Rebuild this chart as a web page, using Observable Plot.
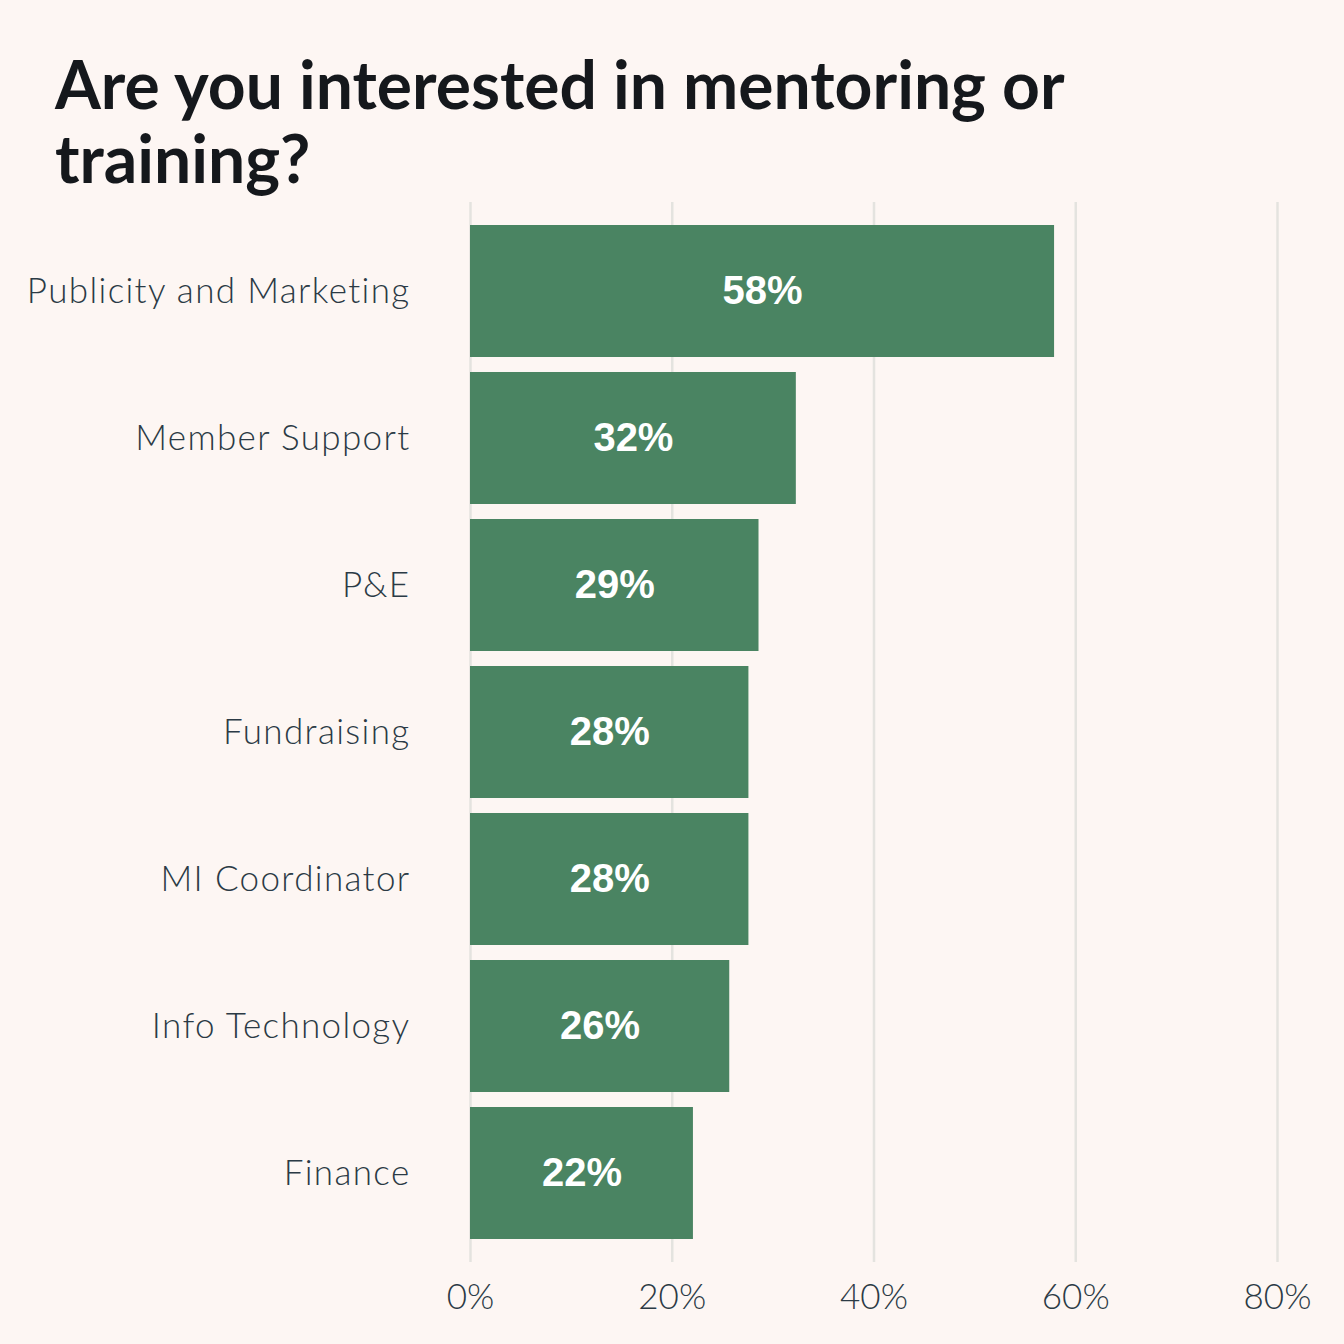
<!DOCTYPE html>
<html>
<head>
<meta charset="utf-8">
<script src="https://cdn.jsdelivr.net/npm/d3@7"></script>
<script src="https://cdn.jsdelivr.net/npm/@observablehq/plot@0.6"></script>
<style>
  html, body { margin: 0; padding: 0; background: #fdf6f3; }
  #wrap { position: relative; width: 1344px; height: 1344px; background: #fdf6f3; overflow: hidden; }
  #title { position: absolute; left: 55px; top: 47px; margin: 0; font-family: Lato, sans-serif; font-weight: 700; font-size: 66px; line-height: 74px; color: #15181c; }
  #chart { position: absolute; left: 0; top: 195px; }
  #chart svg text { letter-spacing: 0; }
  #chart g[aria-label="y-axis tick label"] text { letter-spacing: 1.35px; }
</style>
</head>
<body>
<div id="wrap">
  <h1 id="title">Are you interested in mentoring or<br>training?</h1>
  <div id="chart"></div>
</div>
<script>
const categories = ["Publicity and Marketing", "Member Support", "P&E", "Fundraising", "MI Coordinator", "Info Technology", "Finance"];
const values = [0.579, 0.323, 0.286, 0.276, 0.276, 0.257, 0.221];
const xTicks = [0, 0.2, 0.4, 0.6, 0.8];

const data = categories.map((c, i) => ({category: c, value: values[i]}));

const plot = Plot.plot({
  width: 1344,
  height: 1149,
  marginLeft: 470,
  marginRight: 67,
  marginTop: 7,
  marginBottom: 82,
  style: {background: "transparent", fontFamily: "Lato, sans-serif"},
  x: {domain: [0, 0.8], ticks: xTicks, tickFormat: d => Math.round(d * 100) + "%", label: null, tickSize: 0, tickPadding: 22, grid: false},
  y: {domain: categories, label: null, tickSize: 0, tickPadding: 60, padding: 0.1, insetTop: 7, insetBottom: 6},
  marks: [
    Plot.ruleX(xTicks, {stroke: "#e4e3df", strokeWidth: 2.5}),
    Plot.barX(data, {y: "category", x: "value", fill: "#4a8462"}),
    Plot.text(data, {y: "category", x: d => d.value / 2, text: d => Math.round(d.value * 100) + "%", fill: "white", fontWeight: "bold", fontSize: 40, fontFamily: "Liberation Sans, Arial, sans-serif"}),
    Plot.axisX({ticks: xTicks, tickFormat: d => Math.round(d * 100) + "%", tickSize: 0, tickPadding: 22, fontSize: 35, fontWeight: 300, color: "#2b3a45", label: null}),
    Plot.axisY({tickSize: 0, tickPadding: 60, fontSize: 35, fontWeight: 300, color: "#2b3a45", label: null})
  ]
});
document.getElementById("chart").appendChild(plot);
</script>
</body>
</html>
